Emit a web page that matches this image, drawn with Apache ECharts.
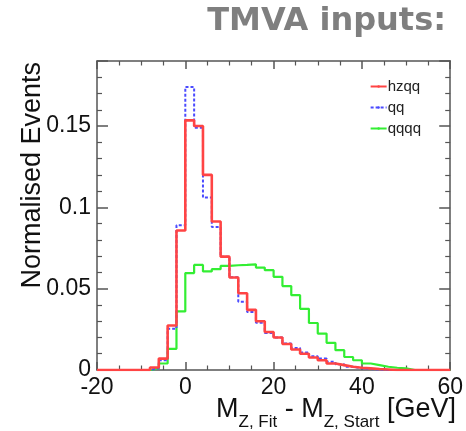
<!DOCTYPE html>
<html>
<head>
<meta charset="utf-8">
<script src="https://cdn.jsdelivr.net/npm/echarts@6/dist/echarts.min.js"></script>
<style>
  html, body { margin: 0; padding: 0; background: #fff; }
  #chart { width: 466px; height: 431px; }
</style>
</head>
<body>
<div id="chart"></div>
<script>
// lower edges of the 2 GeV bins, -20 .. 58
const binLow = [-20, -18, -16, -14, -12, -10, -8, -6, -4, -2,
  0, 2, 4, 6, 8, 10, 12, 14, 16, 18,
  20, 22, 24, 26, 28, 30, 32, 34, 36, 38,
  40, 42, 44, 46, 48, 50, 52, 54, 56, 58];
const xMax = 60;

// normalised events per bin
const hzqq = [0, 0, 0, 0, 0, 0, 0.0015, 0.007, 0.0274, 0.0858,
  0.1535, 0.150, 0.120, 0.0913, 0.0697, 0.0569, 0.0472, 0.037, 0.030, 0.0234,
  0.020, 0.016, 0.0126, 0.010, 0.0077, 0.006, 0.004, 0.003, 0.002, 0.0014,
  0.001, 0.0006, 0.0003, 0, 0, 0, 0, 0, 0, 0];
const qq = [0, 0, 0, 0, 0, 0, 0.001, 0.006, 0.0254, 0.089,
  0.174, 0.149, 0.106, 0.088, 0.0697, 0.057, 0.042, 0.0356, 0.029, 0.0228,
  0.020, 0.0163, 0.0136, 0.0108, 0.0085, 0.007, 0.005, 0.0035, 0.002, 0.001,
  0.0006, 0.0003, 0, 0, 0, 0, 0, 0, 0, 0];
const qqqq = [0, 0, 0, 0, 0, 0, 0.001, 0.004, 0.013, 0.036,
  0.0596, 0.0646, 0.0606, 0.062, 0.064, 0.0644, 0.0646, 0.065, 0.063, 0.0614,
  0.0573, 0.0516, 0.046, 0.0376, 0.0289, 0.0224, 0.0167, 0.0122, 0.008, 0.006,
  0.004, 0.003, 0.002, 0.0014, 0.001, 0, 0, 0, 0, 0];

const xTicks = [-20, 0, 20, 40, 60];
const yTicks = [0, 0.05, 0.1, 0.15];

// histogram points: (lower edge, value) + closing point at the upper edge
function histData(vals) {
  const pts = binLow.map((x, i) => [x, vals[i]]);
  pts.push([xMax, vals[vals.length - 1]]);
  return pts;
}

const FONT = 'Liberation Sans';
const axisCol = '#555';

const chart = echarts.init(document.getElementById('chart'));

function frameAxis(tickLen, extra) {
  return Object.assign({
    type: 'value',
    axisLine: { show: true, onZero: false, lineStyle: { color: axisCol, width: 1.5 } },
    axisTick: { show: true, inside: true, length: tickLen, lineStyle: { color: axisCol, width: 1.5 } },
    splitLine: { show: false }
  }, extra);
}
const minorX = { show: true, splitNumber: 4, length: 4.5, lineStyle: { color: axisCol, width: 1.2 } };
const minorY = { show: true, splitNumber: 5, length: 5, lineStyle: { color: axisCol, width: 1.2 } };

const option = {
  animation: false,
  textStyle: { fontFamily: FONT },
  grid: { left: 97, right: 10, top: 61, bottom: 61, show: false },
  legend: {
    orient: 'vertical',
    right: 40,
    top: 74,
    itemWidth: 16,
    itemHeight: 3,
    itemGap: 6,
    textStyle: { fontFamily: FONT, fontSize: 15, color: '#222', padding: [0, 0, 0, -4] },
    data: ['hzqq', 'qq', 'qqqq']
  },
  xAxis: [
    frameAxis(8, {
      min: -20, max: xMax, interval: 20, minorTick: minorX,
      axisLabel: {
        fontFamily: FONT, fontSize: 23, color: '#111', margin: 6,
        formatter: v => xTicks.includes(v) ? String(v) : ''
      }
    }),
    frameAxis(8, {
      min: -20, max: xMax, interval: 20, position: 'top', minorTick: minorX,
      axisLabel: { show: false }
    })
  ],
  yAxis: [
    frameAxis(11, {
      min: 0, max: 0.19, interval: 0.05, minorTick: minorY,
      axisLabel: {
        fontFamily: FONT, fontSize: 23, color: '#111', margin: 6, showMaxLabel: false,
        formatter: v => {
          const t = yTicks.find(t => Math.abs(t - v) < 1e-9);
          return t === undefined ? '' : String(t);
        }
      }
    }),
    frameAxis(11, {
      min: 0, max: 0.19, interval: 0.05, position: 'right', minorTick: minorY,
      axisLabel: { show: false }
    })
  ],
  series: [
    {
      name: 'qqqq', type: 'line', step: 'end', symbol: 'none',
      data: histData(qqqq),
      lineStyle: { color: '#33ee33', width: 2.2 },
      itemStyle: { color: '#33ee33' }
    },
    {
      name: 'qq', type: 'line', step: 'end', symbol: 'none',
      data: histData(qq),
      lineStyle: { color: '#4a4aff', width: 2, type: [3, 2] },
      itemStyle: { color: '#4a4aff' }
    },
    {
      name: 'hzqq', type: 'line', step: 'end', symbol: 'none',
      data: histData(hzqq),
      lineStyle: { color: '#ff4444', width: 2.6 },
      itemStyle: { color: '#ff4444' }
    }
  ],
  graphic: [
    {
      type: 'text', right: 20, top: 6,
      style: {
        text: 'TMVA inputs:', fill: '#7f7f7f',
        font: 'bold 32px "DejaVu Sans"'
      }
    },
    {
      type: 'text', x: 33, y: 62, rotation: Math.PI / 2,
      style: {
        text: 'Normalised Events', fill: '#111',
        font: '27px "Liberation Sans"',
        align: 'right', verticalAlign: 'middle'
      }
    },
    {
      type: 'text', right: 10, top: 396,
      style: {
        text: '{m|M}{s|Z, Fit}{m| - M}{s|Z, Start}{m| [GeV]}',
        rich: {
          m: { fontFamily: FONT, fontSize: 27, fill: '#111', verticalAlign: 'bottom', lineHeight: 29 },
          s: { fontFamily: FONT, fontSize: 17, fill: '#111', verticalAlign: 'bottom', lineHeight: 20, padding: [0, 0, -8, 0] }
        }
      }
    }
  ]
};

chart.setOption(option);
</script>
</body>
</html>
